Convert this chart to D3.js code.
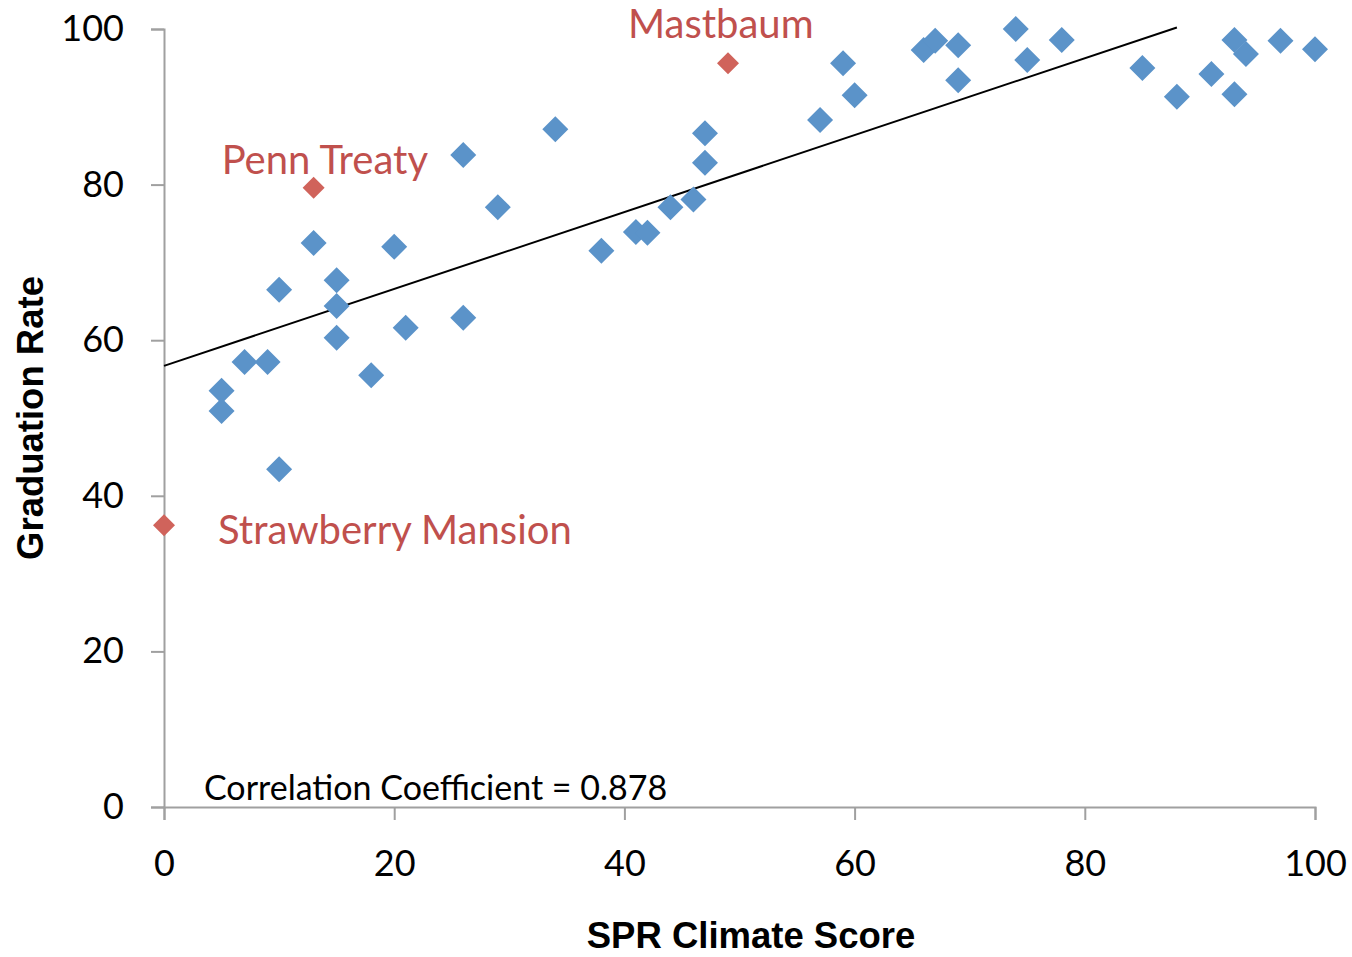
<!DOCTYPE html>
<html>
<head>
<meta charset="utf-8">
<script src="https://cdn.jsdelivr.net/npm/d3@7"></script>
<style>
  body { margin: 0; background: #fff; }
  svg { display: block; }
  .axis path, .axis line { stroke: #a0a0a0; stroke-width: 2px; }
  .axis text { font-family: Lato, "Open Sans", sans-serif; font-size: 36px; fill: #000; }
</style>
</head>
<body>
<svg></svg>
<script>
// climat scolaire vs taux de diplomation
var climateScore = [5, 5, 7, 9, 10, 10, 13, 15, 15, 15, 18, 20, 21, 26, 26, 29, 34, 38, 41, 42, 44, 46, 47, 47,
    57, 59, 60, 66, 67, 69, 69, 74, 75, 78, 85, 88, 91, 93, 93, 94, 97, 100];
var gradRate = [53.5, 50.9, 57.2, 57.2, 66.5, 43.4, 72.5, 67.7, 64.4, 60.3, 55.5, 72.0, 61.6, 83.8, 62.9, 77.1, 87.1, 71.5, 73.9, 73.8, 77.1, 78.1, 86.6, 82.8,
    88.3, 95.6, 91.5, 97.3, 98.5, 97.9, 93.4, 100, 96.0, 98.6, 95.0, 91.3, 94.2, 98.6, 91.6, 96.8, 98.5, 97.4];

// écoles mises en évidence
var highlightNames = ["Mastbaum", "Penn Treaty", "Strawberry Mansion"];
var highlightScore = [49, 13, 0];
var highlightRate = [95.6, 79.6, 36.2];

// droite de tendance
var trendScore = [0, 88];
var trendRate = [56.7, 100.2];

var xTicks = [0, 20, 40, 60, 80, 100];
var yTicks = [0, 20, 40, 60, 80, 100];

var svg = d3.select("svg").attr("width", 1352).attr("height", 957);
var margin = { top: 29, right: 37, bottom: 150, left: 164 },
    width = 1352 - margin.left - margin.right,
    height = 957 - margin.top - margin.bottom,
    g = svg.append("g").attr("transform", "translate(" + margin.left + "," + margin.top + ")");

var x = d3.scaleLinear().domain([0, 100]).range([0, width]);
var y = d3.scaleLinear().domain([0, 100]).range([height, 0]);

g.append("g")
    .attr("class", "axis axis--x")
    .attr("transform", "translate(0," + height + ")")
    .call(d3.axisBottom(x).tickValues(xTicks).tickSize(13).tickSizeOuter(13).tickPadding(30))
    .call(function(a) { a.selectAll("text").attr("dy", "0.71em"); });

g.append("g")
    .attr("class", "axis axis--y")
    .call(d3.axisLeft(y).tickValues(yTicks).tickSize(13).tickSizeOuter(13).tickPadding(27));

g.selectAll(".domain").attr("fill", "none");

// droite de tendance
g.append("line")
    .attr("x1", x(trendScore[0])).attr("y1", y(trendRate[0]))
    .attr("x2", x(trendScore[1])).attr("y2", y(trendRate[1]))
    .attr("stroke", "#000").attr("stroke-width", 2);

var points = climateScore.map(function(s, i) { return { s: s, r: gradRate[i] }; });

g.selectAll(".pt")
    .data(points)
    .enter().append("path")
    .attr("class", "pt")
    .attr("d", d3.symbol().type(d3.symbolSquare).size(338))
    .attr("transform", function(d) {
        return "translate(" + x(d.s) + "," + y(d.r) + ") rotate(45)";
    })
    .attr("fill", "#5b93c9");

var hl = highlightNames.map(function(n, i) {
    return { name: n, s: highlightScore[i], r: highlightRate[i] };
});

g.selectAll(".hl")
    .data(hl)
    .enter().append("path")
    .attr("class", "hl")
    .attr("d", d3.symbol().type(d3.symbolSquare).size(242))
    .attr("transform", function(d) {
        return "translate(" + x(d.s) + "," + y(d.r) + ") rotate(45)";
    })
    .attr("fill", "#d0635b");

// étiquettes des écoles
var labelOffset = {
    "Mastbaum": [-100, -25],
    "Penn Treaty": [-92, -14],
    "Strawberry Mansion": [54, 19]
};
g.selectAll(".hl-label")
    .data(hl)
    .enter().append("text")
    .attr("class", "hl-label")
    .attr("x", function(d) { return x(d.s) + labelOffset[d.name][0]; })
    .attr("y", function(d) { return y(d.r) + labelOffset[d.name][1]; })
    .style("font", "40px Lato, 'Open Sans', sans-serif")
    .attr("fill", "#c0504d")
    .text(function(d) { return d.name; });

g.append("text")
    .attr("x", 40)
    .attr("y", height - 7)
    .style("font", "34px Lato, 'Open Sans', sans-serif")
    .attr("fill", "#000")
    .text("Correlation Coefficient = 0.878");

// titres des axes
svg.append("text")
    .attr("x", 751)
    .attr("y", 948)
    .attr("text-anchor", "middle")
    .style("font", "bold 36.5px 'Liberation Sans', Arial, sans-serif")
    .text("SPR Climate Score");

svg.append("text")
    .attr("transform", "translate(43,418) rotate(-90)")
    .attr("text-anchor", "middle")
    .style("font", "bold 36.5px 'Liberation Sans', Arial, sans-serif")
    .text("Graduation Rate");
</script>
</body>
</html>
